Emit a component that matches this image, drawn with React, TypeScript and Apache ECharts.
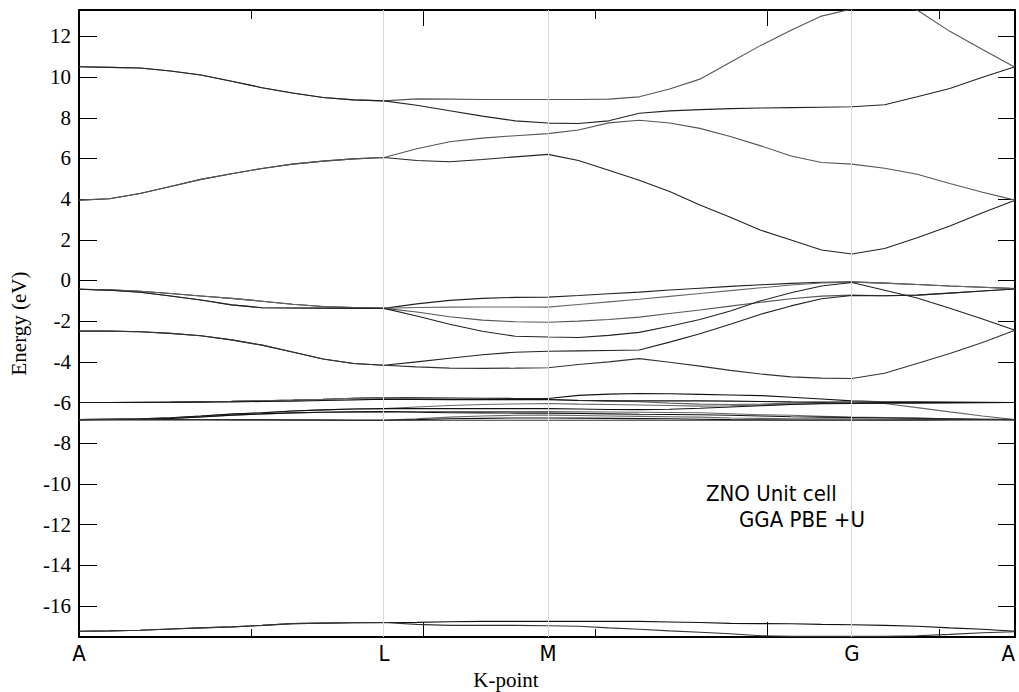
import React, { useEffect, useRef } from "react";
import * as echarts from "echarts";

// k-path sample positions (path length units) and high-symmetry points
const kPath = [
  0, 0.177, 0.355, 0.532, 0.709, 0.887, 1.064, 1.241, 1.419, 1.596, 1.773,
  1.964, 2.155, 2.345, 2.536, 2.727,
  2.904, 3.08, 3.257, 3.434, 3.61, 3.787, 3.964, 4.14, 4.317, 4.494,
  4.684, 4.873, 5.063, 5.253, 5.442,
];
const symPoints = [0, 1.773, 2.727, 4.494, 5.442];
const symLabels = ["A", "L", "M", "G", "A"];
const majorXTicks = [0, 2, 4];
const minorXTicks = [1, 3, 5];
const yTicks = [-16, -14, -12, -10, -8, -6, -4, -2, 0, 2, 4, 6, 8, 10, 12];
const yMin = -17.53;
const yMax = 13.3;

// O 2s bands
const s1 = [
  -17.25, -17.23, -17.2, -17.14, -17.08, -17.03, -16.96, -16.87, -16.85, -16.83, -16.82,
  -16.81, -16.78, -16.76, -16.76, -16.76,
  -16.76, -16.76, -16.76, -16.79, -16.82, -16.86, -16.87, -16.88, -16.91, -16.93,
  -16.96, -17.0, -17.08, -17.15, -17.25,
];
const s2 = [
  -17.25, -17.23, -17.2, -17.14, -17.08, -17.03, -16.96, -16.87, -16.85, -16.83, -16.82,
  -16.91, -16.96, -16.96, -16.96, -16.98,
  -17.0, -17.08, -17.15, -17.23, -17.3, -17.37, -17.47, -17.5, -17.5, -17.5,
  -17.5, -17.47, -17.4, -17.32, -17.27,
];

// Zn 3d bands
const d1 = [
  -6.0, -6.0, -5.99, -5.98, -5.96, -5.94, -5.91, -5.88, -5.84, -5.79, -5.76,
  -5.77, -5.78, -5.79, -5.8, -5.8,
  -5.65, -5.59, -5.56, -5.57, -5.6, -5.63, -5.66, -5.74, -5.83, -5.92,
  -5.97, -5.97, -5.98, -5.99, -6.0,
];
const d2 = [
  -6.0, -6.0, -5.99, -5.98, -5.96, -5.94, -5.91, -5.88, -5.84, -5.79, -5.76,
  -5.8, -5.83, -5.84, -5.84, -5.84,
  -5.89, -5.92, -5.96, -6.03, -6.08, -6.1, -6.08, -6.03, -6.0, -5.97,
  -5.98, -5.99, -6.0, -6.0, -6.0,
];
const d3 = [
  -6.0, -6.0, -6.0, -5.99, -5.98, -5.97, -5.95, -5.93, -5.9, -5.87, -5.84,
  -5.85, -5.86, -5.86, -5.86, -5.86,
  -5.9, -5.92, -5.92, -5.92, -5.92, -5.93, -5.95, -5.97, -5.98, -5.99,
  -6.0, -6.0, -6.0, -6.0, -6.0,
];
const d4 = [
  -6.84, -6.82, -6.8, -6.75, -6.67, -6.57, -6.5, -6.42, -6.36, -6.32, -6.3,
  -6.22, -6.15, -6.1, -6.07, -6.05,
  -6.08, -6.1, -6.12, -6.15, -6.18, -6.16, -6.12, -6.08, -6.05, -6.02,
  -6.05, -6.25, -6.46, -6.66, -6.84,
];
const d5 = [
  -6.84, -6.82, -6.8, -6.75, -6.67, -6.57, -6.5, -6.42, -6.36, -6.32, -6.3,
  -6.3, -6.3, -6.3, -6.3, -6.3,
  -6.32, -6.34, -6.35, -6.33, -6.28, -6.22, -6.16, -6.1, -6.06, -6.05,
  -6.04, -6.03, -6.02, -6.01, -6.0,
];
const d6 = [
  -6.84, -6.83, -6.82, -6.78, -6.71, -6.62, -6.56, -6.51, -6.48, -6.46, -6.45,
  -6.44, -6.44, -6.45, -6.45, -6.45,
  -6.46, -6.47, -6.48, -6.49, -6.5, -6.55, -6.6, -6.63, -6.68, -6.72,
  -6.74, -6.77, -6.8, -6.82, -6.84,
];
const d7 = [
  -6.84, -6.83, -6.82, -6.78, -6.71, -6.62, -6.56, -6.51, -6.48, -6.46, -6.45,
  -6.48, -6.5, -6.51, -6.52, -6.52,
  -6.54, -6.56, -6.58, -6.59, -6.6, -6.63, -6.66, -6.7, -6.72, -6.74,
  -6.76, -6.78, -6.8, -6.82, -6.84,
];
const d8 = [
  -6.84, -6.84, -6.84, -6.84, -6.85, -6.85, -6.85, -6.86, -6.86, -6.87, -6.87,
  -6.8, -6.72, -6.66, -6.63, -6.62,
  -6.64, -6.66, -6.68, -6.7, -6.72, -6.76, -6.78, -6.8, -6.8, -6.8,
  -6.81, -6.82, -6.83, -6.84, -6.84,
];
const d9 = [
  -6.84, -6.84, -6.84, -6.84, -6.85, -6.85, -6.85, -6.86, -6.86, -6.87, -6.87,
  -6.84, -6.8, -6.78, -6.76, -6.76,
  -6.77, -6.78, -6.79, -6.8, -6.82, -6.84, -6.85, -6.86, -6.86, -6.86,
  -6.86, -6.86, -6.85, -6.85, -6.84,
];
const d10 = [
  -6.84, -6.84, -6.85, -6.85, -6.85, -6.86, -6.86, -6.86, -6.87, -6.87, -6.87,
  -6.87, -6.87, -6.87, -6.87, -6.87,
  -6.87, -6.87, -6.87, -6.87, -6.87, -6.87, -6.87, -6.87, -6.87, -6.87,
  -6.87, -6.87, -6.86, -6.85, -6.84,
];

// O 2p valence bands
const v1 = [
  -0.43, -0.46, -0.53, -0.64, -0.76, -0.88, -1.02, -1.17, -1.28, -1.33, -1.37,
  -1.15, -0.98, -0.88, -0.83, -0.82,
  -0.74, -0.65, -0.57, -0.47, -0.38, -0.29, -0.21, -0.14, -0.09, -0.07,
  -0.13, -0.2, -0.27, -0.33, -0.4,
];
const v2 = [
  -0.43, -0.46, -0.53, -0.64, -0.76, -0.88, -1.02, -1.17, -1.28, -1.33, -1.37,
  -1.33, -1.31, -1.3, -1.3, -1.31,
  -1.18, -1.05, -0.92, -0.78, -0.64, -0.5, -0.36, -0.22, -0.12, -0.08,
  -0.13, -0.2, -0.27, -0.33, -0.4,
];
const v3 = [
  -0.43, -0.48, -0.58, -0.76, -0.96, -1.2, -1.34, -1.35, -1.36, -1.37, -1.37,
  -1.55, -1.78, -1.95, -2.03, -2.05,
  -2.0, -1.92, -1.8, -1.62, -1.45, -1.26, -1.07, -0.9, -0.77, -0.72,
  -0.75, -0.72, -0.62, -0.52, -0.42,
];
const v4 = [
  -0.43, -0.48, -0.58, -0.76, -0.96, -1.2, -1.34, -1.35, -1.36, -1.37, -1.37,
  -1.75, -2.15, -2.5, -2.74, -2.78,
  -2.8, -2.7, -2.55, -2.25, -1.92, -1.5, -1.0, -0.6, -0.27, -0.1,
  -0.48, -0.86, -1.37, -1.89, -2.45,
];
const v5 = [
  -2.49, -2.49, -2.52, -2.6, -2.72, -2.92, -3.18, -3.52, -3.86, -4.08, -4.17,
  -4.0, -3.82, -3.65, -3.53, -3.48,
  -3.46, -3.44, -3.42, -3.03, -2.62, -2.15, -1.66, -1.25, -0.9, -0.74,
  -0.75, -0.72, -0.62, -0.52, -0.42,
];
const v6 = [
  -2.49, -2.49, -2.52, -2.6, -2.72, -2.92, -3.18, -3.52, -3.86, -4.08, -4.17,
  -4.25, -4.31, -4.32, -4.31, -4.29,
  -4.13, -4.0, -3.84, -4.02, -4.21, -4.42, -4.6, -4.74, -4.8, -4.82,
  -4.56, -4.08, -3.59, -3.05, -2.45,
];

// Conduction bands
const c1 = [
  3.95, 4.02, 4.28, 4.62, 4.97, 5.25, 5.51, 5.72, 5.87, 5.98, 6.05,
  5.9, 5.84, 5.95, 6.08, 6.2,
  5.9, 5.42, 4.93, 4.38, 3.71, 3.11, 2.47, 1.99, 1.5, 1.3,
  1.57, 2.1, 2.68, 3.33, 3.95,
];
const c2 = [
  3.95, 4.02, 4.28, 4.62, 4.97, 5.25, 5.51, 5.72, 5.87, 5.98, 6.05,
  6.48, 6.82, 7.0, 7.12, 7.22,
  7.4, 7.75, 7.88, 7.74, 7.48, 7.08, 6.62, 6.12, 5.8, 5.72,
  5.52, 5.22, 4.77, 4.34, 3.95,
];
const c3 = [
  10.51, 10.48, 10.45, 10.3, 10.1, 9.8, 9.48, 9.22, 9.0, 8.88, 8.83,
  8.93, 8.92, 8.9, 8.9, 8.9,
  8.9, 8.92, 9.03, 9.42, 9.9, 10.73, 11.56, 12.31, 13.0, 13.35,
  13.6, 13.3, 12.25, 11.36, 10.49,
];
const c4 = [
  10.51, 10.48, 10.45, 10.3, 10.1, 9.8, 9.48, 9.22, 9.0, 8.88, 8.83,
  8.62, 8.35, 8.08, 7.85, 7.74,
  7.72, 7.85, 8.22, 8.34, 8.4, 8.45, 8.48, 8.5, 8.52, 8.54,
  8.64, 9.03, 9.44, 9.99, 10.51,
];

const bands = [s1, s2, d1, d2, d3, d4, d5, d6, d7, d8, d9, d10, v1, v2, v3, v4, v5, v6, c1, c2, c3, c4];
const bandColors = ["#111", "#333", "#111", "#666", "#111", "#666", "#111", "#666", "#111", "#666", "#111", "#333",
  "#222", "#666", "#555", "#222", "#222", "#333", "#222", "#555", "#555", "#222"];

const serif = "'Liberation Serif', 'Times New Roman', serif";
const narrow = "'Liberation Sans Narrow', 'DejaVu Sans Condensed', 'Liberation Sans', sans-serif";

function tickAxis(position: "top" | "bottom", values: number[], length: number, showLine: boolean) {
  return {
    type: "value",
    position,
    min: 0,
    max: symPoints[symPoints.length - 1],
    axisLine: { show: showLine, onZero: false, lineStyle: { color: "#000", width: 2 } },
    axisTick: { show: true, inside: true, length, customValues: values, lineStyle: { color: "#000", width: 1 } },
    axisLabel: { show: false },
    splitLine: { show: false },
  };
}

export default function App() {
  const ref = useRef<HTMLDivElement>(null);

  useEffect(() => {
    if (!ref.current) return;
    const chart = echarts.init(ref.current, null, { renderer: "svg" });

    const series: any[] = bands.map((band, i) => ({
      type: "line",
      xAxisIndex: 0,
      yAxisIndex: 0,
      data: kPath.map((k, j) => [k, band[j]]),
      showSymbol: false,
      symbol: "none",
      silent: true,
      clip: true,
      z: 3,
      lineStyle: { color: bandColors[i], width: 1.1 },
    }));

    // vertical guides at the interior high-symmetry points
    series.push({
      type: "line",
      xAxisIndex: 0,
      yAxisIndex: 0,
      data: [],
      silent: true,
      z: 1,
      markLine: {
        silent: true,
        symbol: "none",
        animation: false,
        label: { show: false },
        lineStyle: { color: "#d8d8d8", width: 1, type: "solid" },
        data: symPoints.slice(1, -1).map((k) => ({ xAxis: k })),
      },
    });

    const xMain = {
      ...tickAxis("bottom", majorXTicks, 15, true),
      axisLabel: {
        show: true,
        customValues: symPoints,
        formatter: (v: number) => {
          const idx = symPoints.findIndex((p) => Math.abs(p - v) < 1e-6);
          return idx >= 0 ? symLabels[idx] : "";
        },
        fontFamily: narrow,
        fontSize: 22,
        color: "#000",
        margin: 5,
        showMinLabel: true,
        showMaxLabel: true,
        alignMaxLabel: "right",
      },
      name: "K-point",
      nameLocation: "middle",
      nameGap: 32,
      nameTextStyle: { fontFamily: serif, fontSize: 21, color: "#000", padding: [0, 82, 0, 0] },
    };

    chart.setOption({
      animation: false,
      backgroundColor: "#fff",
      grid: { left: 79, right: 4, top: 10, bottom: 55, outerBoundsMode: "none", containLabel: false },
      xAxis: [
        xMain,
        tickAxis("bottom", minorXTicks, 8, false),
        tickAxis("top", majorXTicks, 16, true),
        tickAxis("top", minorXTicks, 9, false),
      ],
      yAxis: [
        {
          type: "value",
          position: "left",
          min: yMin,
          max: yMax,
          axisLine: { show: true, onZero: false, lineStyle: { color: "#000", width: 2 } },
          axisTick: { show: true, inside: true, length: 18, customValues: yTicks, lineStyle: { color: "#000", width: 1 } },
          axisLabel: {
            customValues: yTicks,
            fontFamily: serif,
            fontSize: 21,
            color: "#000",
            margin: 8,
            formatter: (v: number) => String(v),
          },
          splitLine: { show: false },
          name: "Energy (eV)",
          nameLocation: "middle",
          nameGap: 50,
          nameRotate: 90,
          nameTextStyle: { fontFamily: serif, fontSize: 21, color: "#000" },
        },
        {
          type: "value",
          position: "right",
          min: yMin,
          max: yMax,
          axisLine: { show: true, onZero: false, lineStyle: { color: "#000", width: 2 } },
          axisTick: { show: true, inside: true, length: 17, customValues: yTicks, lineStyle: { color: "#000", width: 1 } },
          axisLabel: { show: false },
          splitLine: { show: false },
        },
      ],
      graphic: [
        {
          type: "text",
          x: 706,
          y: 493,
          style: { text: "ZNO Unit cell", fontFamily: narrow, fontSize: 22, fill: "#000", verticalAlign: "middle" },
        },
        {
          type: "text",
          x: 739,
          y: 519,
          style: { text: "GGA PBE +U", fontFamily: narrow, fontSize: 22, fill: "#000", verticalAlign: "middle" },
        },
      ],
      series,
    });

    return () => chart.dispose();
  }, []);

  return <div ref={ref} style={{ position: "absolute", left: 0, top: 0, width: 1019, height: 692 }} />;
}
